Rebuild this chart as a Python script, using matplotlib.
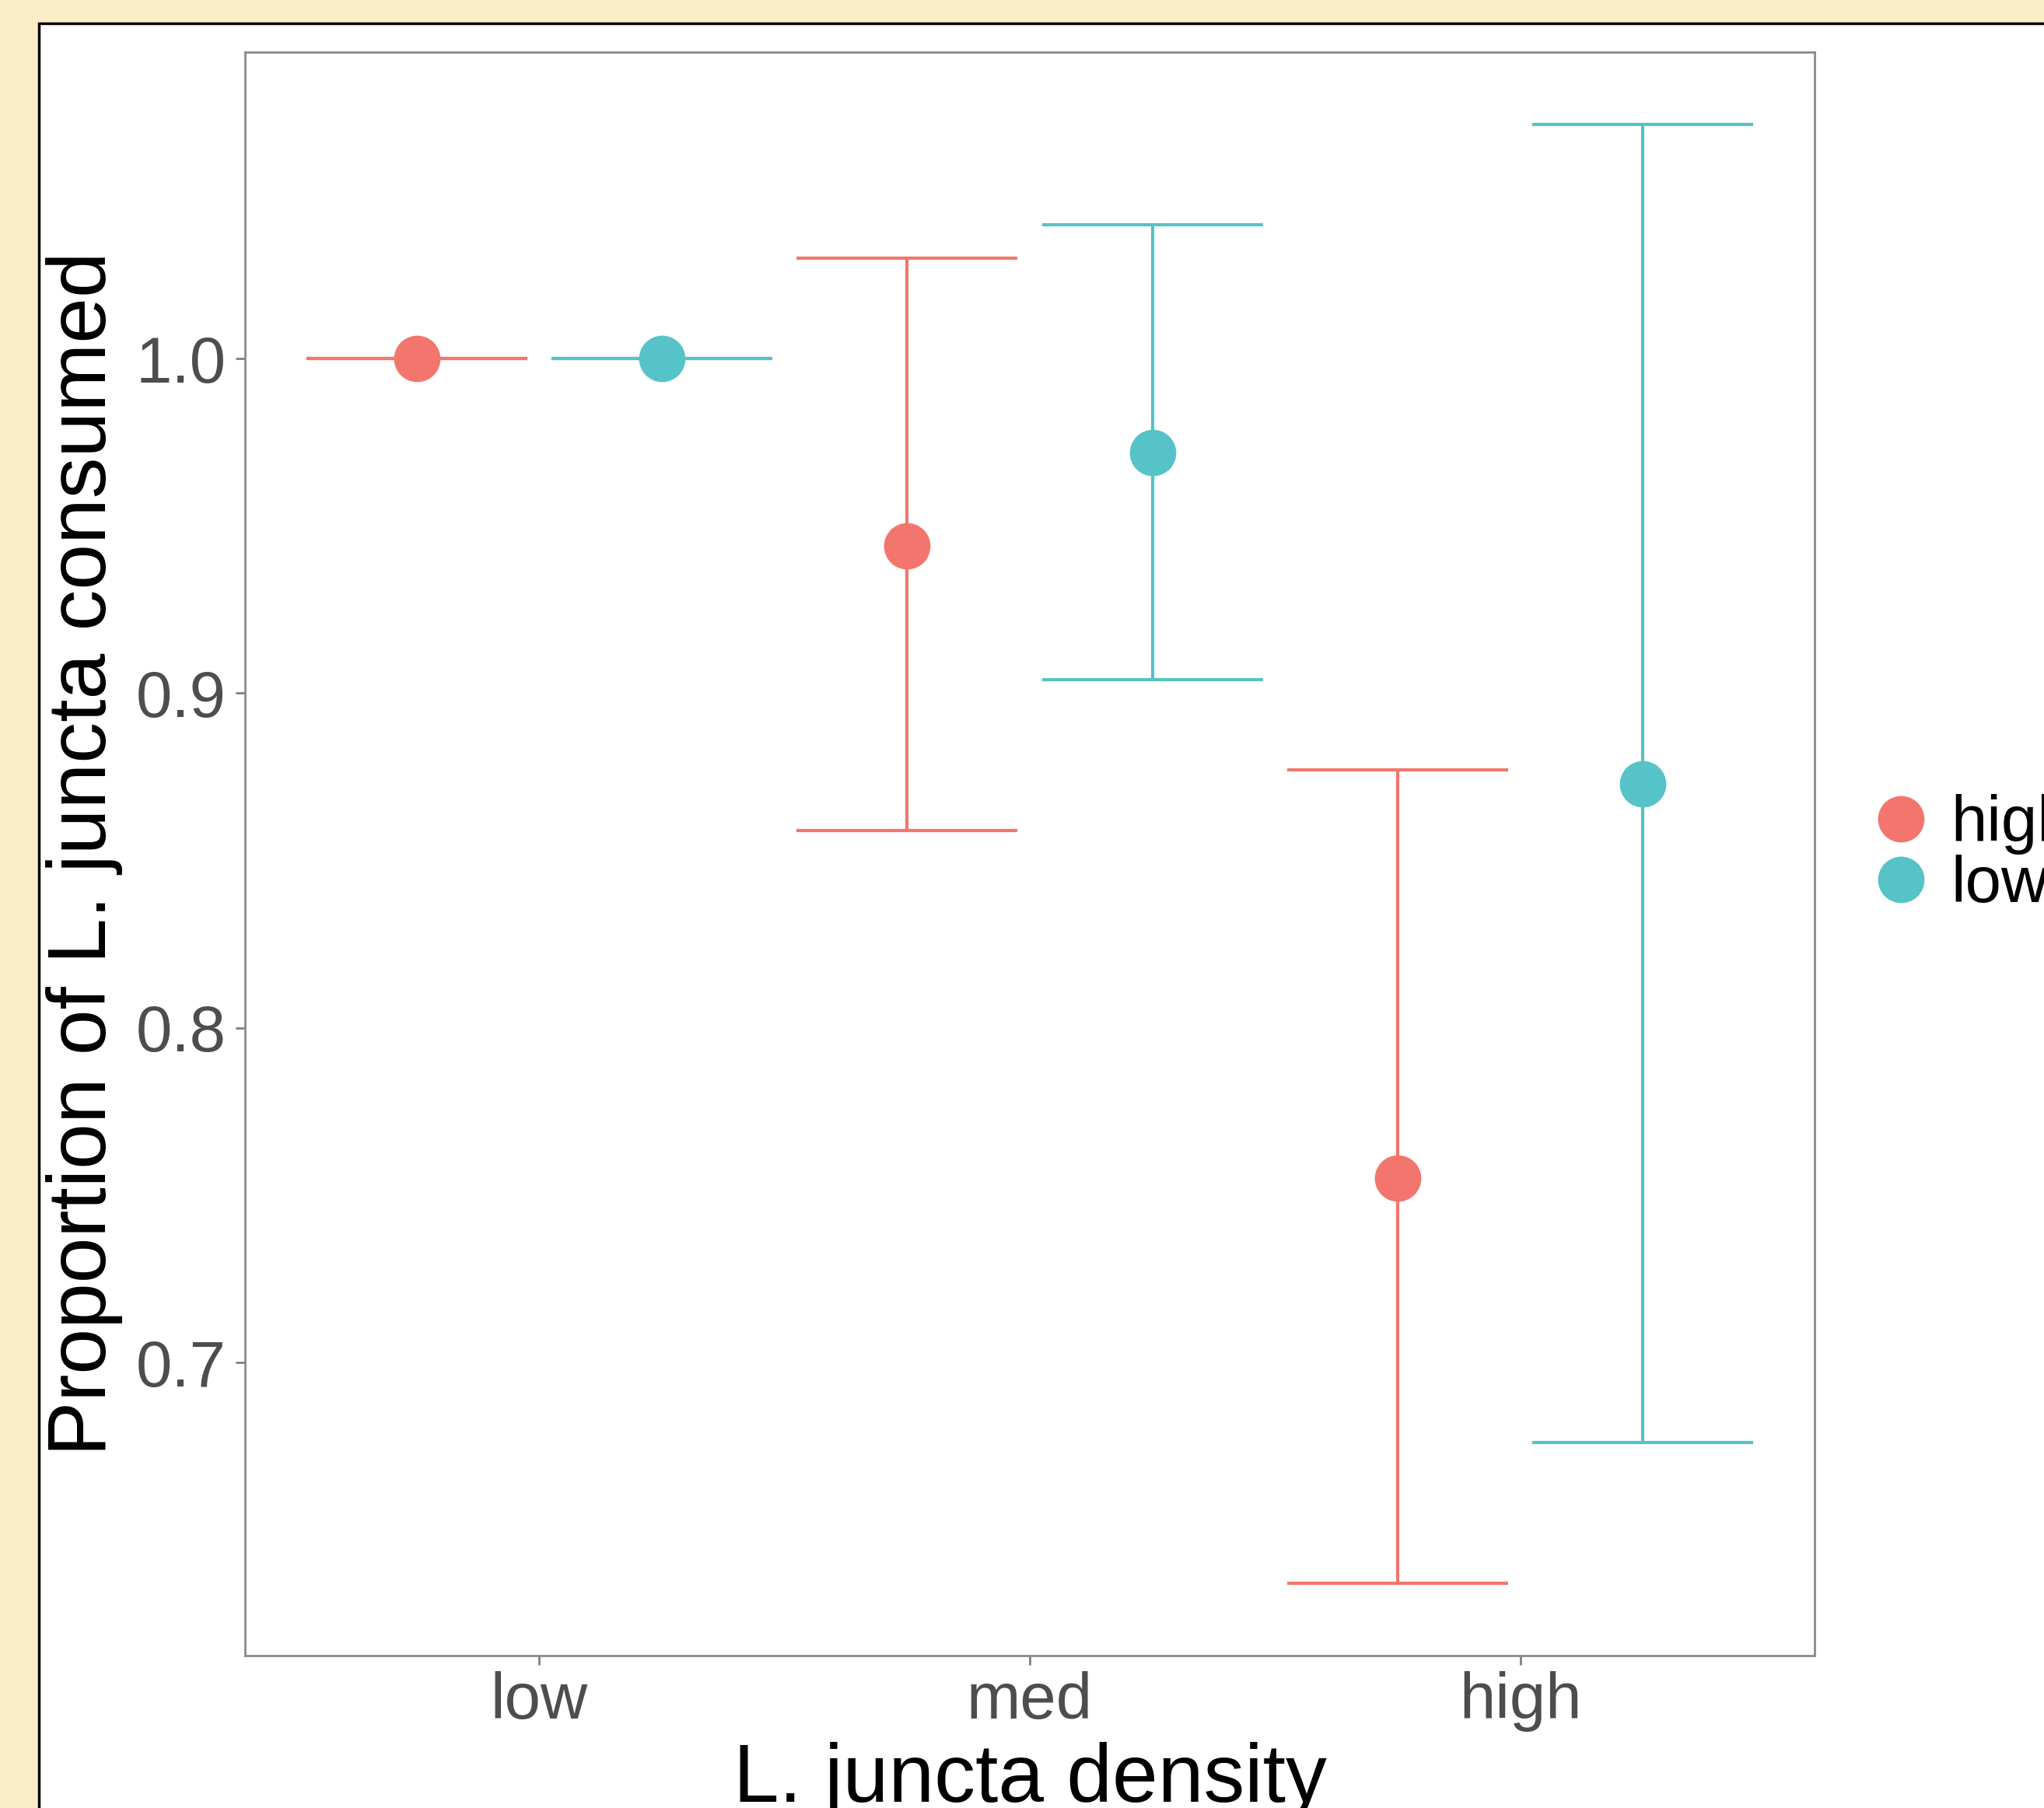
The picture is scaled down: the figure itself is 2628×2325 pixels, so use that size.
import matplotlib
matplotlib.use("Agg")
import matplotlib.pyplot as plt
from matplotlib.patches import Rectangle
from matplotlib.lines import Line2D
import numpy as np

plt.rcParams['font.family'] = ['Liberation Sans', 'DejaVu Sans']

# ---- data ----
densities = ["low", "med", "high"]
groups = ["high", "low"]
colors = ["#F2766D", "#55C3C7"]
means_high = [1.0, 0.944, 0.755]
upper_high = [1.0, 1.030, 0.877]
lower_high = [1.0, 0.859, 0.634]
means_low = [1.0, 0.972, 0.873]
upper_low = [1.0, 1.040, 1.070]
lower_low = [1.0, 0.904, 0.676]

W, H, DPI = 2628, 2325, 100
fig = plt.figure(figsize=(W / DPI, H / DPI), dpi=DPI)
fig.patch.set_facecolor("#FCEDC9")

# white inner panel with black border
fig.add_artist(Rectangle((50 / W, 0 - 0.05), 1.1, 1 - 30 / H + 0.05,
                         transform=fig.transFigure, facecolor="white",
                         edgecolor="black", linewidth=2.5, zorder=0))

ax = fig.add_axes([315 / W, 1 - 2129 / H, (2333 - 315) / W, (2129 - 67) / H])
ax.set_facecolor("white")

dodge = 0.25
capw = 0.225
x = np.arange(1, len(densities) + 1)
series = [(means_high, lower_high, upper_high), (means_low, lower_low, upper_low)]
lw = 3.0
msize = 43
for i, (m, lo, up) in enumerate(series):
    xs = x + (-dodge if i == 0 else dodge)
    m = np.array(m); lo = np.array(lo); up = np.array(up)
    ax.vlines(xs, lo, up, color=colors[i], linewidth=lw, zorder=2)
    ax.hlines(lo, xs - capw, xs + capw, color=colors[i], linewidth=lw, zorder=2)
    ax.hlines(up, xs - capw, xs + capw, color=colors[i], linewidth=lw, zorder=2)
    ax.plot(xs, m, 'o', color=colors[i], markersize=msize, markeredgewidth=0, zorder=3)

ax.set_xlim(0.4, 3.6)
ax.set_ylim(0.6124, 1.0916)
ax.set_xticks(x)
ax.set_xticklabels(densities)
ax.set_yticks([0.7, 0.8, 0.9, 1.0])
ax.set_yticklabels(["0.7", "0.8", "0.9", "1.0"])
ax.tick_params(axis='both', colors="#7F7F7F", labelcolor="#4D4D4D",
               labelsize=60, length=8.5, width=2, pad=6)
ax.tick_params(axis='y', pad=9)
for s in ax.spines.values():
    s.set_color("#8A8A8A")
    s.set_linewidth(2)

ax.set_ylabel("Proportion of L. juncta consumed", fontsize=76, color="black", labelpad=12)
ax.set_xlabel("L. juncta density", fontsize=76, color="black", labelpad=9)

handles = [Line2D([], [], marker='o', linestyle='none', color=c, markersize=msize,
                  markeredgewidth=0) for c in colors]
fig.legend(handles, groups, loc='center left', bbox_to_anchor=(2402 / W, 1 - 1099 / H),
           frameon=False, fontsize=60, handletextpad=0.28, labelspacing=0.0,
           handlelength=1.0, borderpad=0, borderaxespad=0)

fig.savefig("out.png", dpi=DPI, facecolor=fig.get_facecolor())
